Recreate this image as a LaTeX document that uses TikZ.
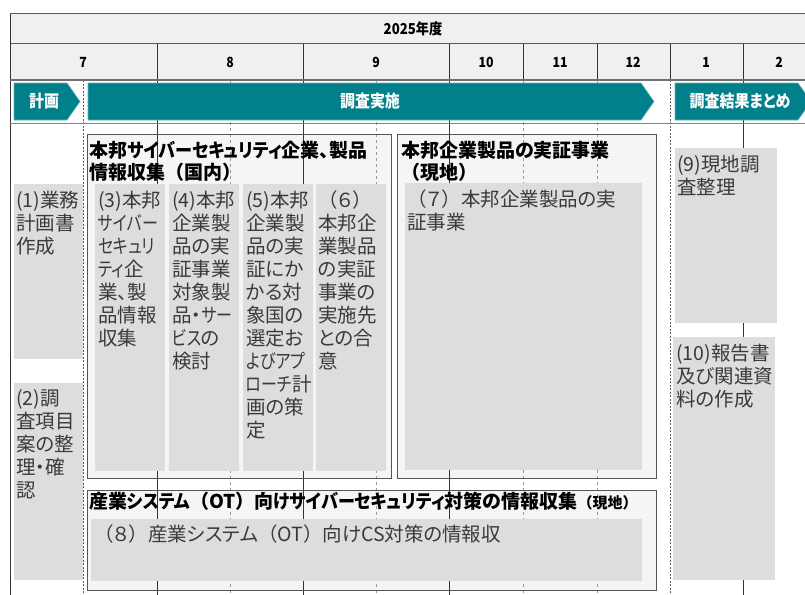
\documentclass[tikz,border=0pt]{standalone}
\usepackage{fontspec}
\setmainfont{Noto Sans CJK JP}[RawFeature=+palt]
\newfontfamily\nopalt{Noto Sans CJK JP}
\newfontfamily\kanaf{Noto Sans CJK JP}[RawFeature=+palt, FakeStretch=0.82]
\newfontfamily\kanat{Noto Sans CJK JP}[RawFeature=+palt, FakeStretch=0.9]
\newfontfamily\condf{Noto Sans CJK JP}[RawFeature=+palt, FakeStretch=0.88]
\newcommand\kn[1]{{\kanaf #1}}
\newcommand\kt[1]{{\kanat #1}}
\newcommand\lp{{\nopalt （}}
\newcommand\rp{{\nopalt ）}}
\definecolor{tealc}{HTML}{00808A}
\definecolor{boxgray}{HTML}{DCDDDF}
\definecolor{grpfill}{HTML}{F5F5F5}
\definecolor{grpline}{HTML}{555555}
\definecolor{hdrfill}{HTML}{F0F0F0}
\definecolor{txtgray}{HTML}{3A3A3A}
\definecolor{gridd}{HTML}{333333}
\definecolor{gridl}{HTML}{999999}
\tikzset{
  gbox/.style={fill=boxgray, draw=none, inner sep=0pt, anchor=north west},
  grp/.style={fill=grpfill, draw=grpline, line width=1.2pt, inner sep=0pt, anchor=north west},
  btxt/.style={anchor=north west, inner sep=0pt, align=left, text=txtgray, font=\fontsize{19.5}{23}\selectfont},
  ttl/.style={anchor=north west, inner sep=0pt, align=left, text=black, font=\bfseries\fontsize{19}{22}\selectfont},
  solidg/.style={draw=gridd, line width=0.9pt},
  dashl/.style={draw=gridl, line width=0.8pt, dash pattern=on 3pt off 3pt},
  dashd/.style={draw=gridd!80, line width=0.9pt, dash pattern=on 2pt off 1.5pt},
  chev/.style={fill=tealc, draw=tealc!60!white, line width=0.6pt},
  chevtxt/.style={text=white, font=\condf\bfseries\fontsize{17}{20}\selectfont, inner sep=0pt},
  monthtxt/.style={text=black, font=\condf\bfseries\fontsize{14}{16}\selectfont, inner sep=0pt},
}
\begin{document}
\begin{tikzpicture}[x=1pt,y=-1pt]
\useasboundingbox (0,0) rectangle (805,594);
% header rows
\draw[fill=hdrfill, draw=gridd!80, line width=1pt] (10,14) rectangle (820,44);
\draw[fill=hdrfill, draw=gridd!80, line width=1pt] (10,44) rectangle (820,80);
\node[font=\condf\bfseries\fontsize{15}{17}\selectfont, inner sep=0pt] (year) at (413,29) {2025年度};
\foreach \x in {157,303,449,523,597,670,743}{\draw[solidg] (\x,44) -- (\x,80);}
\node[monthtxt] (m7) at (83,62) {7};
\node[monthtxt] (m8) at (230,62) {8};
\node[monthtxt] (m9) at (376,62) {9};
\node[monthtxt] (m10) at (486,62) {10};
\node[monthtxt] (m11) at (560,62) {11};
\node[monthtxt] (m12) at (633,62) {12};
\node[monthtxt] (m1) at (706,62) {1};
\node[monthtxt] (m2) at (779,62) {2};
% group fills
\path[fill=grpfill] (87,134) rectangle (391,478);
\path[fill=grpfill] (397,134) rectangle (656,478);
\path[fill=grpfill] (87,490) rectangle (656,590);
% grid lines body
\draw[solidg] (10,14) -- (10,600);
\foreach \x in {157,303,449,743}{\draw[solidg] (\x,80) -- (\x,600);}
\foreach \x in {230,376,523,597}{\draw[dashl] (\x,80) -- (\x,600);}
\foreach \x in {83,670}{\draw[dashd] (\x,80) -- (\x,600);}
\draw[draw=gridd!70, line width=1.6pt] (10,80) -- (820,80);
\draw[draw=gridd!60, line width=0.9pt] (10,123.5) -- (820,123.5);
% chevrons
\draw[chev] (14,83) -- (67,83) -- (80,101.5) -- (67,120) -- (14,120) -- cycle;
\draw[chev] (88,83) -- (641,83) -- (654,101.5) -- (641,120) -- (88,120) -- cycle;
\draw[chev] (675,83) -- (798,83) -- (811,101.5) -- (798,120) -- (675,120) -- cycle;
\node[chevtxt] (c1) at (44,101.5) {計画};
\node[chevtxt] (c2) at (370,101.5) {調査実施};
\node[chevtxt] (c3) at (740,101.5) {調査結果まとめ};
% group borders
\node[grp, fill=none, minimum width=304, minimum height=344] (g1) at (87,134) {};
\node[grp, fill=none, minimum width=259, minimum height=344] (g2) at (397,134) {};
\node[grp, fill=none, minimum width=569, minimum height=100] (g3) at (87,490) {};
% gray boxes
\node[gbox, minimum width=69, minimum height=175] (b1) at (14,184) {};
\node[gbox, minimum width=69, minimum height=197] (b2) at (14,383) {};
\node[gbox, minimum width=70, minimum height=287] (b3) at (95,184) {};
\node[gbox, minimum width=70, minimum height=287] (b4) at (169,184) {};
\node[gbox, minimum width=70, minimum height=287] (b5) at (243,184) {};
\node[gbox, minimum width=70, minimum height=287] (b6) at (316,184) {};
\node[gbox, minimum width=237, minimum height=287] (b7) at (405,183) {};
\node[gbox, minimum width=551, minimum height=62] (b8) at (91,519) {};
\node[gbox, minimum width=102, minimum height=175] (b9) at (675,148) {};
\node[gbox, minimum width=102, minimum height=243] (b10) at (673,337) {};
% titles
\node[ttl] (t1) at ([xshift=2pt,yshift=-7pt]g1.north west) {本邦\kt{サイバーセキュリティ}企業、製品\\情報収集\lp 国内\rp};
\node[ttl] (t2) at ([xshift=4pt,yshift=-7pt]g2.north west) {本邦企業製品の実証事業\\\lp 現地\rp};
\node[ttl] (t3) at ([xshift=2pt,yshift=-2pt]g3.north west) {産業\kt{システム}\lp OT\rp 向\kt{け}\kt{サイバーセキュリティ}対策の情報収集{\fontsize{15}{18}\selectfont\lp 現地\rp}};
% box texts
\node[btxt] (x1) at ([xshift=2pt,yshift=-7pt]b1.north west) {(1)業務\\計画書\\作成};
\node[btxt] (x2) at ([xshift=2pt,yshift=-6pt]b2.north west) {(2)調\\査項目\\案の整\\理・確\\認};
\node[btxt] (x3) at ([xshift=3pt,yshift=-7pt]b3.north west) {(3)本邦\\\kn{サイバー}\\\kn{セキュリ}\\\kn{ティ}企\\業、製\\品情報\\収集};
\node[btxt] (x4) at ([xshift=3pt,yshift=-7pt]b4.north west) {(4)本邦\\企業製\\品の実\\証事業\\対象製\\品・\kn{サー}\\\kn{ビス}の\\検討};
\node[btxt] (x5) at ([xshift=3pt,yshift=-7pt]b5.north west) {(5)本邦\\企業製\\品の実\\証にか\\かる対\\象国の\\選定お\\\kn{よびアプ}\\\kn{ローチ}計\\画の策\\定};
\node[btxt] (x6) at ([xshift=2pt,yshift=-7pt]b6.north west) {\lp ６\rp\\本邦企\\業製品\\の実証\\事業の\\実施先\\との合\\意};
\node[btxt] (x7) at ([xshift=2pt,yshift=-7pt]b7.north west) {\lp ７\rp 本邦企業製品の実\\証事業};
\node[btxt] (x8) at ([xshift=3pt,yshift=-6pt]b8.north west) {\lp ８\rp 産業システム\lp OT\rp 向けCS対策の情報収};
\node[btxt] (x9) at ([xshift=2pt,yshift=-7pt]b9.north west) {(9)現地調\\査整理};
\node[btxt] (x10) at ([xshift=3pt,yshift=-7pt]b10.north west) {(10)報告書\\及び関連資\\料の作成};
\end{tikzpicture}
\end{document}
